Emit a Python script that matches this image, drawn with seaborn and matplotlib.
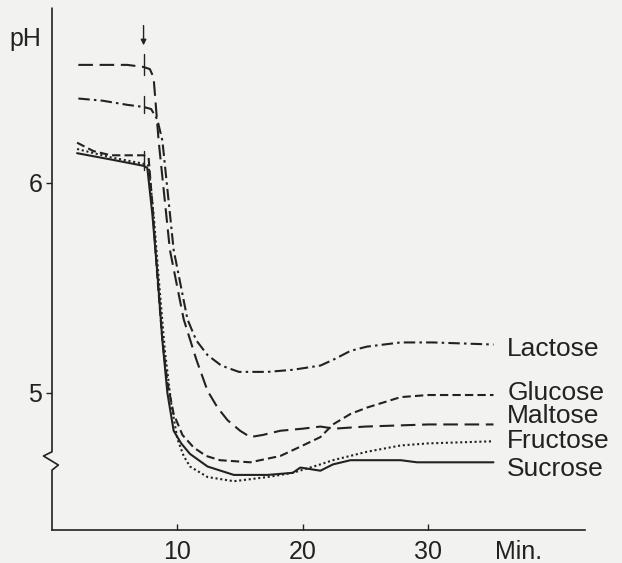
import numpy as np
import pandas as pd
import matplotlib
matplotlib.use("Agg")
import matplotlib.pyplot as plt
import matplotlib.transforms as mtransforms
import seaborn as sb

# values (time in min, pH)
maltose_t = [2.1, 4.0, 6.0, 7.3, 7.8, 8.1, 8.5, 9.4, 10.5, 11.5, 12.4, 13.2, 14.0, 15.0, 15.8, 16.8, 18.2, 20.0, 21.4, 22.5, 25.0, 30.0, 35.2]
maltose_ph = [6.56, 6.56, 6.56, 6.55, 6.54, 6.50, 6.20, 5.68, 5.35, 5.16, 5.01, 4.93, 4.87, 4.82, 4.79, 4.80, 4.82, 4.83, 4.84, 4.83, 4.84, 4.85, 4.85]

lactose_t = [2.1, 4.0, 6.0, 7.3, 7.9, 8.4, 8.8, 9.7, 10.8, 11.5, 12.4, 13.5, 14.9, 17.2, 19.2, 21.4, 22.5, 23.8, 25.1, 27.8, 30.4, 35.2]
lactose_ph = [6.40, 6.39, 6.37, 6.36, 6.35, 6.30, 6.20, 5.68, 5.35, 5.25, 5.18, 5.13, 5.10, 5.10, 5.11, 5.13, 5.16, 5.20, 5.22, 5.24, 5.24, 5.23]

glucose_t = [2.0, 3.3, 4.7, 7.3, 7.7, 8.0, 8.4, 8.8, 9.2, 9.7, 10.4, 11.3, 12.3, 13.4, 15.8, 18.2, 20.0, 21.4, 22.4, 23.8, 25.1, 27.8, 30.0, 35.2]
glucose_ph = [6.19, 6.15, 6.13, 6.13, 6.12, 5.90, 5.55, 5.25, 5.05, 4.90, 4.80, 4.74, 4.70, 4.68, 4.67, 4.70, 4.75, 4.79, 4.85, 4.90, 4.93, 4.98, 4.99, 4.99]

fructose_t = [2.0, 4.7, 7.3, 7.7, 8.1, 8.5, 9.0, 9.5, 10.0, 10.5, 11.0, 12.4, 14.5, 17.2, 19.2, 21.4, 22.4, 25.1, 27.8, 30.0, 35.2]
fructose_ph = [6.16, 6.12, 6.09, 6.08, 5.85, 5.55, 5.20, 4.95, 4.78, 4.70, 4.65, 4.60, 4.58, 4.60, 4.62, 4.66, 4.68, 4.72, 4.75, 4.76, 4.77]

sucrose_t = [2.0, 4.7, 7.3, 7.6, 8.0, 8.4, 8.8, 9.2, 9.7, 10.3, 11.0, 12.4, 14.5, 17.2, 19.2, 19.8, 21.4, 22.4, 23.8, 27.8, 29.1, 35.2]
sucrose_ph = [6.14, 6.11, 6.08, 6.07, 5.85, 5.57, 5.25, 5.00, 4.82, 4.76, 4.71, 4.65, 4.61, 4.61, 4.62, 4.645, 4.63, 4.66, 4.68, 4.68, 4.67, 4.67]

sugars = ["Lactose", "Glucose", "Maltose", "Fructose", "Sucrose"]
label_ph = [5.21, 5.00, 4.89, 4.77, 4.64]

# time of the addition (arrow) and the little cross marks
add_time = 7.3
cross_marks = [(6.51, 6.61), (6.33, 6.41), (6.06, 6.15)]

series = {
    "Lactose": (lactose_t, lactose_ph),
    "Glucose": (glucose_t, glucose_ph),
    "Maltose": (maltose_t, maltose_ph),
    "Fructose": (fructose_t, fructose_ph),
    "Sucrose": (sucrose_t, sucrose_ph),
}
frames = []
for name, (t, ph) in series.items():
    frames.append(pd.DataFrame({"time": t, "pH": ph, "sugar": name}))
df = pd.concat(frames, ignore_index=True)

sb.set_style("ticks")
plt.rcParams["font.family"] = ["Liberation Sans", "DejaVu Sans"]

ink = "#222222"
paper = "#f2f2f0"

fig = plt.figure(figsize=(6.22, 5.63), dpi=100, facecolor=paper)
ax = fig.add_axes([0.0836, 0.0586, 0.857, 0.927])
ax.set_facecolor(paper)

dashes = {
    "Lactose": (5.5, 2.0, 1.2, 2.0),
    "Glucose": (4.0, 2.0),
    "Maltose": (7.0, 3.2),
    "Fructose": (1.0, 1.3),
    "Sucrose": "",
}
sb.lineplot(data=df, x="time", y="pH", style="sugar", dashes=dashes, color=ink,
            linewidth=1.5, estimator=None, sort=False, legend=False, ax=ax)

ax.set_xlim(0, 42.5)
ax.set_ylim(4.348, 6.83)

# cross marks and arrow at the moment of addition
for lo, hi in cross_marks:
    ax.plot([add_time, add_time], [lo, hi], color=ink, lw=1.0)
ax.annotate("", xy=(add_time, 6.64), xytext=(add_time, 6.76),
            arrowprops=dict(arrowstyle="-|>", color=ink, lw=1.0, mutation_scale=8))

# labels at the right end of the curves
for name, y in zip(sugars, label_ph):
    ax.text(36.3, y, name, fontsize=19, color=ink, ha="left", va="center")

# axes styling
sb.despine(ax=ax, top=True, right=True)
ax.spines["left"].set_visible(False)
ax.spines["bottom"].set_color(ink)
ax.spines["bottom"].set_linewidth(1.2)

ax.set_xticks([10, 20, 30])
ax.set_yticks([5, 6])
ax.tick_params(axis="x", direction="in", length=4.5, width=1.0, pad=7, labelsize=18, colors=ink)
ax.tick_params(axis="y", direction="out", length=4, width=1.0, pad=3, labelsize=18, colors=ink)
ax.set_xlabel("")
ax.set_ylabel("")

# left axis drawn by hand with the break
trans = mtransforms.blended_transform_factory(ax.transAxes, ax.transData)
ax.plot([0, 0, -0.016, 0.012, 0, 0], [6.83, 4.72, 4.70, 4.657, 4.633, 4.348],
        color=ink, lw=1.2, transform=trans, clip_on=False)

ax.text(-0.049, 6.65, "pH", fontsize=18, color=ink, ha="center", va="baseline",
        transform=trans)
tx = mtransforms.blended_transform_factory(ax.transData, ax.transAxes)
ax.text(35.3, -0.019, "Min.", fontsize=18, color=ink, ha="left", va="top", transform=tx)

plt.savefig("out.png", dpi=100, facecolor=paper)
